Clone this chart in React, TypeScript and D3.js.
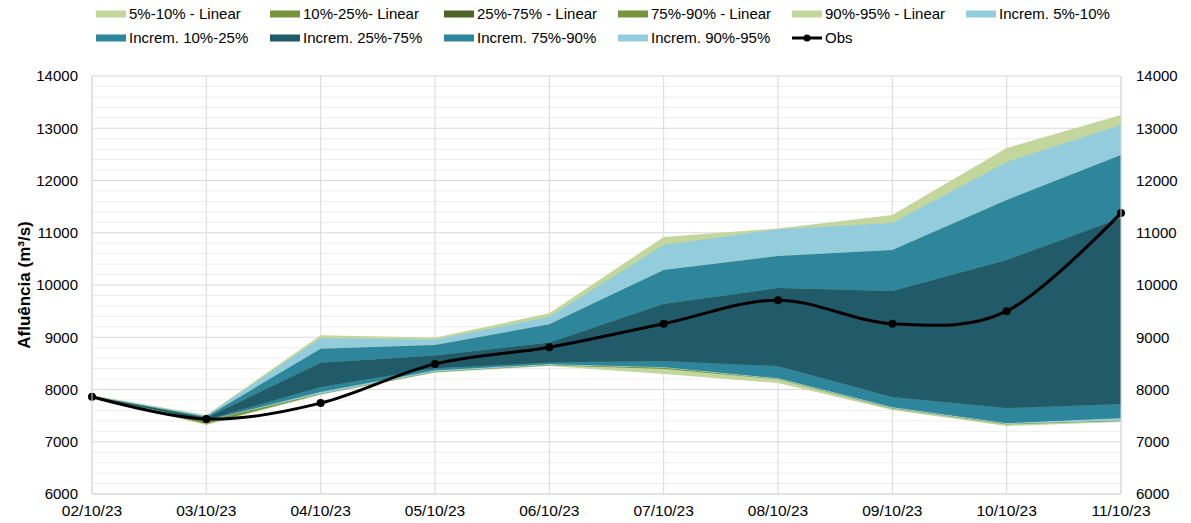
import React from 'react'
import * as d3 from 'd3'

const dates = ['02/10/23', '03/10/23', '04/10/23', '05/10/23', '06/10/23', '07/10/23', '08/10/23', '09/10/23', '10/10/23', '11/10/23']

const obs = [7860, 7435, 7740, 8490, 8810, 9260, 9710, 9260, 9500, 11380]

// linear model percentiles
const lin05 = [7840, 7320, 7900, 8320, 8450, 8297, 8124, 7608, 7301, 7378]
const lin10 = [7845, 7340, 7910, 8330, 8460, 8390, 8190, 7630, 7330, 7390]
const lin25 = [7855, 7400, 8100, 8400, 8500, 8600, 8500, 7900, 7700, 7800]
const lin75 = [7865, 7470, 8400, 8600, 8800, 9500, 9800, 9700, 10200, 11000]
const lin90 = [7875, 7495, 8975, 8945, 9380, 10750, 11055, 11180, 12340, 13050]
const lin95 = [7890, 7510, 9040, 8990, 9460, 10919, 11080, 11340, 12622, 13254]

// incremental model percentiles
const inc05 = [7850, 7400, 7920, 8340, 8470, 8415, 8200, 7640, 7340, 7400]
const inc10 = [7855, 7410, 7955, 8370, 8490, 8430, 8220, 7665, 7360, 7455]
const inc25 = [7860, 7420, 8050, 8410, 8520, 8545, 8450, 7856, 7646, 7722]
const inc75 = [7870, 7460, 8510, 8650, 8900, 9636, 9943, 9885, 10478, 11282]
const inc90 = [7875, 7480, 8780, 8850, 9250, 10287, 10555, 10670, 11627, 12488]
const inc95 = [7880, 7500, 8985, 8950, 9390, 10766, 11065, 11187, 12354, 13062]

const yTicks = [6000, 7000, 8000, 9000, 10000, 11000, 12000, 13000, 14000]

const C_LGREEN = '#C3D69B'
const C_OLIVE = '#77933C'
const C_DOLIVE = '#4F6228'
const C_LBLUE = '#93CDDD'
const C_TEAL = '#2E869C'
const C_DTEAL = '#215A69'

const bands = [
  { name: '5%-10% - Linear', lo: lin05, hi: lin10, color: C_LGREEN },
  { name: '10%-25%- Linear', lo: lin10, hi: lin25, color: C_OLIVE },
  { name: '25%-75% - Linear', lo: lin25, hi: lin75, color: C_DOLIVE },
  { name: '75%-90% - Linear', lo: lin75, hi: lin90, color: C_OLIVE },
  { name: '90%-95% - Linear', lo: lin90, hi: lin95, color: C_LGREEN },
  { name: 'Increm. 5%-10%', lo: inc05, hi: inc10, color: C_LBLUE },
  { name: 'Increm. 10%-25%', lo: inc10, hi: inc25, color: C_TEAL },
  { name: 'Increm. 25%-75%', lo: inc25, hi: inc75, color: C_DTEAL },
  { name: 'Increm. 75%-90%', lo: inc75, hi: inc90, color: C_TEAL },
  { name: 'Increm. 90%-95%', lo: inc90, hi: inc95, color: C_LBLUE },
]

const W = 1191
const H = 523
const m = { left: 92, right: 70, top: 76, bottom: 29 }
const font = 'Arial, "Liberation Sans", sans-serif'

export default function App() {
  const x = d3.scalePoint<string>().domain(dates).range([m.left, W - m.right])
  const y = d3.scaleLinear().domain([6000, 14000]).range([H - m.bottom, m.top])
  const minor = d3.range(6000, 14001, 200).filter(v => v % 1000 !== 0)

  const area = (lo: number[], hi: number[]) =>
    d3.area<number>()
      .x((_, i) => x(dates[i]) as number)
      .y0((_, i) => y(lo[i]))
      .y1((_, i) => y(hi[i]))(lo) as string

  const obsLine = d3.line<number>()
    .x((_, i) => x(dates[i]) as number)
    .y(d => y(d))
    .curve(d3.curveCardinal.tension(0))(obs) as string

  const legendItems = [...bands.map(b => ({ name: b.name, color: b.color, line: false })), { name: 'Obs', color: '#000', line: true }]

  return (
    <svg width={W} height={H} style={{ position: 'absolute', left: 0, top: 0, background: '#fff' }} fontFamily={font}>
      {/* grid */}
      {minor.map(v => (
        <line key={'mn' + v} x1={m.left} x2={W - m.right} y1={y(v)} y2={y(v)} stroke="#EEEEEE" strokeWidth={1} />
      ))}
      {yTicks.map(v => (
        <line key={'mj' + v} x1={m.left} x2={W - m.right} y1={y(v)} y2={y(v)} stroke="#D9D9D9" strokeWidth={1} />
      ))}
      {dates.map(d => (
        <line key={'v' + d} x1={x(d)} x2={x(d)} y1={m.top} y2={H - m.bottom} stroke="#D9D9D9" strokeWidth={1} />
      ))}

      {/* bands */}
      {bands.map(b => (
        <path key={b.name} d={area(b.lo, b.hi)} fill={b.color} />
      ))}

      {/* obs */}
      <path d={obsLine} fill="none" stroke="#000" strokeWidth={3} />
      {obs.map((v, i) => (
        <circle key={'o' + i} cx={x(dates[i])} cy={y(v)} r={4} fill="#000" />
      ))}

      {/* axes */}
      <line x1={m.left} x2={m.left} y1={m.top} y2={H - m.bottom} stroke="#D9D9D9" />
      <line x1={W - m.right} x2={W - m.right} y1={m.top} y2={H - m.bottom} stroke="#D9D9D9" />
      <line x1={m.left} x2={W - m.right} y1={H - m.bottom} y2={H - m.bottom} stroke="#D9D9D9" />
      {yTicks.map(v => (
        <g key={'yt' + v} fontSize={15} fill="#000">
          <text x={m.left - 14} y={y(v)} dy="0.35em" textAnchor="end">{v}</text>
          <text x={W - m.right + 15} y={y(v)} dy="0.35em" textAnchor="start">{v}</text>
        </g>
      ))}
      {dates.map(d => (
        <text key={'xt' + d} x={x(d)} y={H - m.bottom + 22} textAnchor="middle" fontSize={15.5}>{d}</text>
      ))}
      <text transform={`translate(30,${(m.top + H - m.bottom) / 2}) rotate(-90)`} textAnchor="middle" fontSize={17} fontWeight="bold">
        Afluência (m³/s)
      </text>

      {/* legend */}
      {legendItems.map((it, i) => {
        const col = i % 6
        const row = Math.floor(i / 6)
        const lx = 96 + col * 174
        const ly = 14 + row * 24
        return (
          <g key={'lg' + i}>
            {it.line ? (
              <g>
                <line x1={lx} x2={lx + 30} y1={ly} y2={ly} stroke="#000" strokeWidth={3} />
                <circle cx={lx + 15} cy={ly} r={3.5} fill="#000" />
              </g>
            ) : (
              <rect x={lx} y={ly - 3.5} width={30} height={7} fill={it.color} />
            )}
            <text x={lx + 33} y={ly} dy="0.35em" fontSize={15}>{it.name}</text>
          </g>
        )
      })}
    </svg>
  )
}
